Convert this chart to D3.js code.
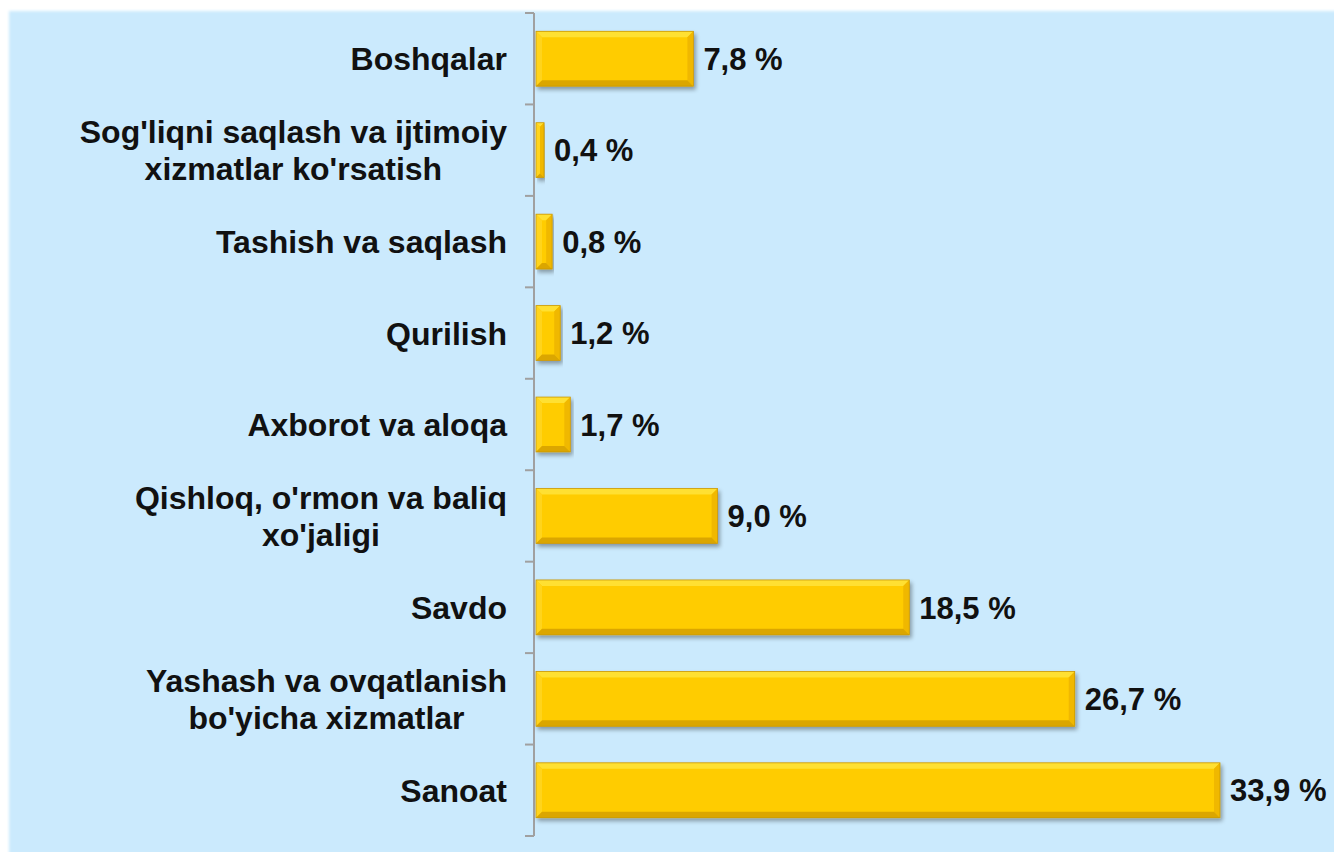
<!DOCTYPE html>
<html>
<head>
<meta charset="utf-8">
<script src="https://cdn.jsdelivr.net/npm/d3@7"></script>
<style>
  body { margin: 0; background: #fff; }
  svg { display: block; }
</style>
</head>
<body>
<svg width="1334" height="852"></svg>
<script>
// categories top to bottom, values in %
var categories = [
  ["Boshqalar"],
  ["Sog'liqni saqlash va ijtimoiy", "xizmatlar ko'rsatish"],
  ["Tashish va saqlash"],
  ["Qurilish"],
  ["Axborot va aloqa"],
  ["Qishloq, o'rmon va baliq", "xo'jaligi"],
  ["Savdo"],
  ["Yashash va ovqatlanish", "bo'yicha xizmatlar"],
  ["Sanoat"]
];
var values = [7.8, 0.4, 0.8, 1.2, 1.7, 9.0, 18.5, 26.7, 33.9];
var valueLabels = ["7,8 %", "0,4 %", "0,8 %", "1,2 %", "1,7 %", "9,0 %", "18,5 %", "26,7 %", "33,9 %"];

var svg = d3.select("svg"),
  width = +svg.attr("width"),
  height = +svg.attr("height");

var defs = svg.append("defs");
var shadow = defs.append("filter").attr("id", "shadow")
  .attr("x", "-5%").attr("y", "-20%").attr("width", "115%").attr("height", "150%");
shadow.append("feGaussianBlur").attr("in", "SourceAlpha").attr("stdDeviation", 2);
shadow.append("feOffset").attr("dx", 2).attr("dy", 3).attr("result", "off");
shadow.append("feComponentTransfer").append("feFuncA").attr("type", "linear").attr("slope", 0.35);
var merge = shadow.append("feMerge");
merge.append("feMergeNode");
merge.append("feMergeNode").attr("in", "SourceGraphic");

var edge = defs.append("filter").attr("id", "edge");
edge.append("feGaussianBlur").attr("stdDeviation", 1.5);

// background panel
svg.append("rect")
  .attr("x", 9).attr("y", 11)
  .attr("width", width).attr("height", height)
  .attr("fill", "#cbeafd")
  .attr("filter", "url(#edge)");

var axisX = 534;
var x = d3.scaleLinear().domain([0, 33.9]).range([536, 1220]);
var y = d3.scaleBand()
  .domain(d3.range(categories.length))
  .range([13, 836])
  .paddingInner(0.4)
  .paddingOuter(0.2);

var yAxis = d3.axisLeft(y).tickSize(0).tickFormat("");
var axisG = svg.append("g").attr("transform", "translate(" + axisX + ",0)").call(yAxis);
axisG.select(".domain").attr("stroke", "#a0a0a0").attr("stroke-width", 2).attr("d", "M0,13V836");

// tick marks at band boundaries
var step = (836 - 13) / categories.length;
axisG.selectAll(".btick")
  .data(d3.range(categories.length + 1))
  .enter().append("line")
  .attr("x1", -9).attr("x2", 0)
  .attr("y1", function(i) { return 13 + i * step; })
  .attr("y2", function(i) { return 13 + i * step; })
  .attr("stroke", "#a0a0a0").attr("stroke-width", 2);

// bars
var bw = y.bandwidth();
var bars = svg.append("g").selectAll("g")
  .data(values)
  .enter().append("g")
  .attr("transform", function(d, i) { return "translate(" + x(0) + "," + y(i) + ")"; })
  .attr("filter", "url(#shadow)");

bars.each(function(d) {
  var g = d3.select(this);
  var w = x(d) - x(0);
  var b = Math.min(6, w / 2);
  g.append("rect").attr("width", w).attr("height", bw).attr("fill", "#ffcc00");
  // top bevel
  g.append("path").attr("d", "M0,0H" + w + "L" + (w - b) + "," + b + "H" + b + "Z").attr("fill", "#ffe033");
  // left bevel
  g.append("path").attr("d", "M0,0L" + b + "," + b + "V" + (bw - b) + "L0," + bw + "Z").attr("fill", "#ffd41a");
  // right bevel
  g.append("path").attr("d", "M" + w + ",0V" + bw + "L" + (w - b) + "," + (bw - b) + "V" + b + "Z").attr("fill", "#f0b800");
  // bottom bevel
  g.append("path").attr("d", "M0," + bw + "H" + w + "L" + (w - b) + "," + (bw - b) + "H" + b + "Z").attr("fill", "#dba600");
  g.append("rect").attr("width", w).attr("height", bw).attr("fill", "none")
    .attr("stroke", "#c9980a").attr("stroke-width", 0.8);
});

// value labels
svg.append("g").selectAll("text")
  .data(values)
  .enter().append("text")
  .attr("x", function(d) { return x(d) + 10; })
  .attr("y", function(d, i) { return y(i) + bw / 2; })
  .attr("dy", "0.36em")
  .attr("font-family", "Liberation Sans, Arial, sans-serif")
  .attr("font-weight", "bold")
  .attr("font-size", 31)
  .attr("fill", "#111")
  .text(function(d, i) { return valueLabels[i]; });

// category labels, lines centred, block right aligned
var labelRight = 507, lineH = 37;
var lab = svg.append("g").selectAll("text")
  .data(categories)
  .enter().append("text")
  .attr("font-family", "Liberation Sans, Arial, sans-serif")
  .attr("font-weight", "bold")
  .attr("font-size", 32)
  .attr("fill", "#111")
  .attr("text-anchor", "middle");

lab.each(function(lines, i) {
  var t = d3.select(this);
  var cy = y(i) + bw / 2;
  var spans = t.selectAll("tspan").data(lines).enter().append("tspan")
    .attr("y", function(l, j) { return cy + (j - (lines.length - 1) / 2) * lineH; })
    .attr("dy", "0.36em")
    .text(function(l) { return l; });
  var maxW = 0;
  spans.each(function() { maxW = Math.max(maxW, this.getComputedTextLength()); });
  spans.attr("x", labelRight - maxW / 2);
});
</script>
</body>
</html>
